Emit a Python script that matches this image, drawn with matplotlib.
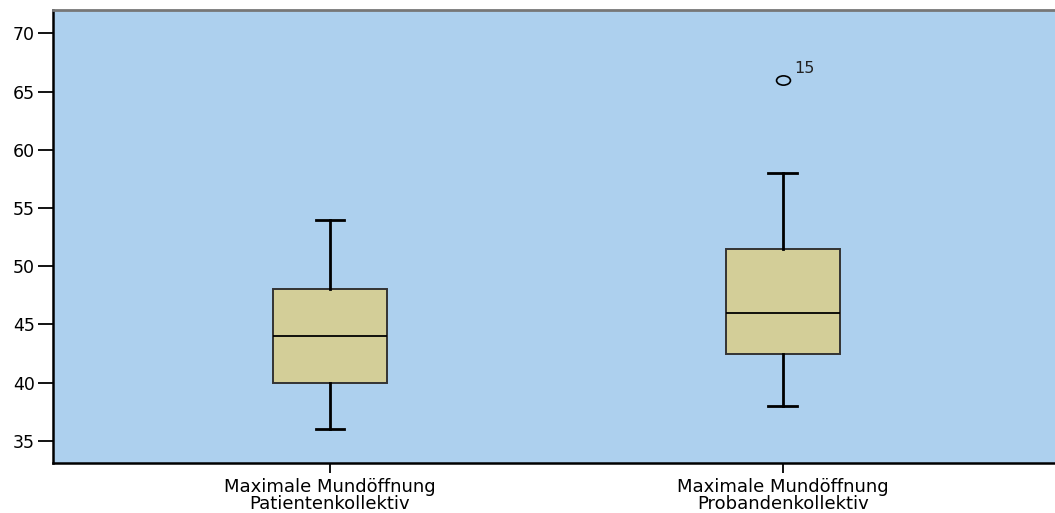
import matplotlib
matplotlib.use("Agg")
import matplotlib.pyplot as plt
from matplotlib.path import Path
from matplotlib.transforms import Affine2D

# box statistics
categories = ["Maximale Mundöffnung\nPatientenkollektiv",
              "Maximale Mundöffnung\nProbandenkollektiv"]
whisker_low = [36, 38]
q1 = [40, 42.5]
median = [44, 46]
q3 = [48, 51.5]
whisker_high = [54, 58]
outliers = [[], [66]]
outlier_ids = [[], ["15"]]
yticks = [35, 40, 45, 50, 55, 60, 65, 70]

plt.rcParams['font.family'] = ['DejaVu Sans']

fig = plt.figure(figsize=(10.55, 5.13), dpi=100)
ax = fig.add_axes([53 / 1055, 1 - 463 / 513, 1 - 53 / 1055, (463 - 10) / 513])
ax.set_facecolor("#ADD0EE")

stats = []
for i in range(len(categories)):
    stats.append(dict(whislo=whisker_low[i], q1=q1[i], med=median[i], q3=q3[i],
                      whishi=whisker_high[i], fliers=outliers[i], label=categories[i]))

# the outlier circle is drawn a bit wider than tall
oval = Path.unit_circle().transformed(Affine2D().scale(1.5, 1.0))

positions = [1, 2]
ax.bxp(stats, positions=positions, widths=0.251, patch_artist=True, showfliers=True,
       boxprops=dict(facecolor="#D3CE98", edgecolor="#333333", linewidth=1.4),
       medianprops=dict(color="black", linewidth=1.3),
       whiskerprops=dict(color="black", linewidth=2),
       capprops=dict(color="black", linewidth=2),
       capwidths=0.064,
       flierprops=dict(marker=oval, markersize=10, markerfacecolor="none",
                       markeredgecolor="black", markeredgewidth=1.2))

for pos, vals, ids in zip(positions, outliers, outlier_ids):
    for v, t in zip(vals, ids):
        ax.annotate(t, (pos, v), xytext=(8, 2.5), textcoords="offset points",
                    fontsize=11.5, color="#222222", va="bottom", ha="left")

ax.set_xlim(0.3885, 2.6005)
ax.set_ylim(33.1, 72.0)
ax.set_yticks(yticks)
ax.set_xticks(positions)
ax.set_xticklabels(categories, linespacing=0.9)
ax.tick_params(axis="y", length=11, width=1.3, labelsize=12.5, pad=2)
ax.tick_params(axis="x", length=7, width=1.3, labelsize=13, pad=4)

ax.spines["left"].set_linewidth(1.8)
ax.spines["bottom"].set_linewidth(1.8)
ax.spines["top"].set_color("#777777")
ax.spines["top"].set_linewidth(2)
ax.spines["right"].set_visible(False)

fig.savefig("out.png", dpi=100)
